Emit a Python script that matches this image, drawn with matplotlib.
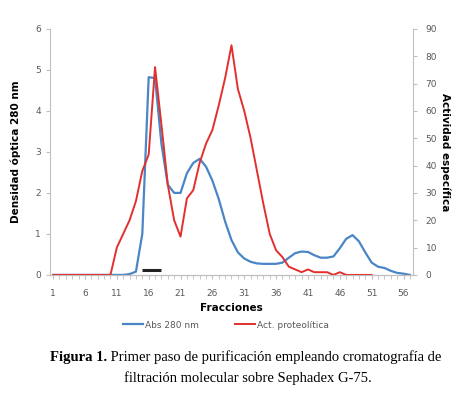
"""Elution profile of the first Sephadex G-75 gel filtration step."""

import numpy
from matplotlib import pyplot

fractions = numpy.arange(1, 58)
abs280 = [0, 0, 0, 0, 0, 0, 0, 0, 0, 0,
          0, 0, 0.02, 0.08, 1.0, 4.82, 4.8, 3.2, 2.2, 2.0,
          2.0, 2.48, 2.73, 2.83, 2.64, 2.3, 1.85, 1.3, 0.85, 0.55,
          0.4, 0.32, 0.28, 0.27, 0.27, 0.27, 0.3, 0.42, 0.53, 0.57,
          0.56, 0.48, 0.42, 0.42, 0.45, 0.65, 0.88, 0.97, 0.82, 0.55,
          0.3, 0.2, 0.17, 0.1, 0.05, 0.03, 0.0]
act_fractions = numpy.arange(1, 52)
activity = [0, 0, 0, 0, 0, 0, 0, 0, 0, 0,
            10, 15, 20, 27, 38, 44, 76, 55, 33, 20,
            14, 28, 31, 41, 48, 53, 62, 72, 84, 68,
            60, 50, 38, 26, 15, 9, 6.5, 3, 2, 1,
            2, 1, 1, 1, 0, 1, 0, 0, 0, 0,
            0]
pool = [15, 18]          # fractions pooled for the next step
pool_level = 0.12

blue = '#4a86c5'
red = '#e2302c'

pyplot.rc('font', family='DejaVu Sans')
fig = pyplot.figure(figsize=(4.71, 3.95), dpi=100)
ax = fig.add_axes([0.106, 0.304, 0.771, 0.623])
ax2 = ax.twinx()

l1, = ax.plot(fractions, abs280, color=blue, lw=1.6, label='Abs 280 nm')
l2, = ax2.plot(act_fractions, activity, color=red, lw=1.4,
               label='Act. proteolítica')
ax.plot(pool, [pool_level, pool_level], color='#222222', lw=2.2,
        solid_capstyle='butt')

ax.set_xlim(0.5, 57.5)
ax.set_ylim(0, 6)
ax2.set_ylim(0, 90)
ax.set_xticks(range(1, 57, 5))
ax.set_xticks(range(1, 58), minor=True)
ax.set_yticks(range(0, 7))
ax2.set_yticks(range(0, 91, 10))

for a in (ax, ax2):
    a.spines['top'].set_visible(False)
    for s in ('left', 'right', 'bottom'):
        a.spines[s].set_color('#bfbfbf')
        a.spines[s].set_linewidth(0.8)
    a.tick_params(labelsize=6.5, colors='#bfbfbf', labelcolor='#595959',
                  length=3, width=0.8)
    a.tick_params(which='minor', colors='#bfbfbf', length=3, width=0.6)
ax2.spines['left'].set_visible(False)
ax.spines['right'].set_visible(False)
ax.tick_params(axis='x', direction='out', pad=7)
ax2.tick_params(axis='y', pad=6)

ax.set_xlabel('Fracciones', fontsize=7.5, fontweight='bold', labelpad=4)
ax.set_ylabel('Densidad óptica 280 nm', fontsize=7.5, fontweight='bold',
              labelpad=10)
ax2.set_ylabel('Actividad específica', fontsize=7.5, fontweight='bold',
               rotation=-90, labelpad=10)

fig.legend(handles=[l1, l2], loc='center', bbox_to_anchor=(0.48, 0.177),
           ncol=2, frameon=False, fontsize=6.5, handlelength=2.2,
           columnspacing=4.0, handletextpad=0.2,
           labelcolor='#595959')

# Caption: bold "Figura 1." followed by normal serif text.
fig.canvas.draw()
renderer = fig.canvas.get_renderer()
serif = 'Liberation Serif'
parts = [('Figura 1.', 'bold'),
         (' Primer paso de purificación empleando cromatografía de', 'normal')]
size = 10.5
widths = []
for txt, wt in parts:
    t = fig.text(0, 0, txt, fontsize=size, family=serif, fontweight=wt)
    widths.append(t.get_window_extent(renderer).width)
    t.remove()
x0 = (0.522 * fig.bbox.width - sum(widths) / 2) / fig.bbox.width
for (txt, wt), w in zip(parts, widths):
    fig.text(x0, 0.096, txt, fontsize=size, family=serif, fontweight=wt,
             va='center', ha='left')
    x0 += w / fig.bbox.width
fig.text(0.526, 0.043, 'filtración molecular sobre Sephadex G-75.',
         fontsize=size, family=serif, va='center', ha='center')

fig.savefig('out.png', dpi=100)
